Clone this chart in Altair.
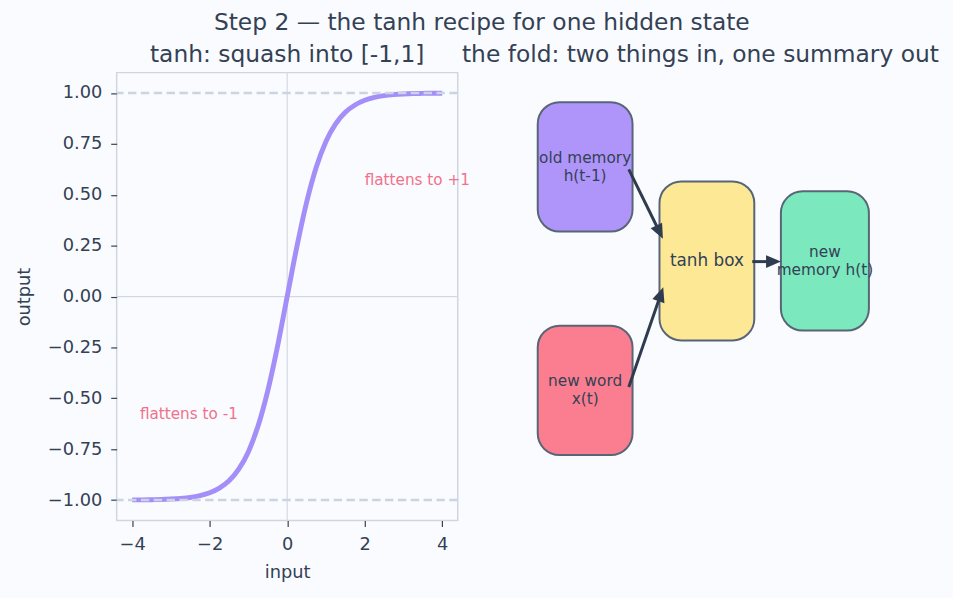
import math
import altair as alt
import pandas as pd

# ---------------- data ----------------
tanh_input = [-4.0, -3.75, -3.5, -3.25, -3.0, -2.75, -2.5, -2.25, -2.0, -1.75, -1.5,
              -1.25, -1.0, -0.75, -0.5, -0.25, 0.0, 0.25, 0.5, 0.75, 1.0, 1.25, 1.5,
              1.75, 2.0, 2.25, 2.5, 2.75, 3.0, 3.25, 3.5, 3.75, 4.0]
tanh_output = [-0.999, -0.999, -0.998, -0.997, -0.995, -0.992, -0.987, -0.978, -0.964,
               -0.941, -0.905, -0.848, -0.762, -0.635, -0.462, -0.245, 0.0, 0.245,
               0.462, 0.635, 0.762, 0.848, 0.905, 0.941, 0.964, 0.978, 0.987, 0.992,
               0.995, 0.997, 0.998, 0.999, 0.999]
limit_levels = [-1.0, 1.0]
zero_level = [0.0]
note_texts = ["flattens to +1", "flattens to -1"]
note_x = [2.0, -3.8]
note_y = [0.55, -0.6]
x_ticks = [-4, -2, 0, 2, 4]
y_ticks = [-1.0, -0.75, -0.5, -0.25, 0.0, 0.25, 0.5, 0.75, 1.0]

box_names = ["old", "word", "tanh", "new"]
box_labels = ["old memory\nh(t-1)", "new word\nx(t)", "tanh box", "new\nmemory h(t)"]
box_x0 = [0.23, 0.23, 3.80, 7.36]
box_x1 = [3.01, 3.01, 6.58, 9.94]
box_y0 = [6.45, 1.46, 4.02, 4.24]
box_y1 = [9.34, 4.35, 7.57, 7.35]
box_colors = ["#a78bfa", "#fb7185", "#fde68a", "#6ee7b7"]

arrow_from_x = [2.90, 2.90, 6.52]
arrow_from_y = [7.84, 2.98, 5.78]
arrow_to_x = [3.90, 3.91, 7.36]
arrow_to_y = [6.29, 5.21, 5.78]

# ---------------- styling ----------------
FONT = "DejaVu Sans"
INK = "#334155"
BG = "#fafbfe"
PW, PH = 345, 453
XDOM, YDOM = [-4.4, 4.4], [-1.1, 1.1]
DDOM = [0, 10]
HEAD_LEN = 15
LINE_H = 18
TFS = 23.6

curve_df = pd.DataFrame({"input": tanh_input, "output": tanh_output})
limit_df = pd.DataFrame({"level": limit_levels})
zero_df = pd.DataFrame({"level": zero_level})
note_df = pd.DataFrame({"text": note_texts, "x": note_x, "y": note_y})

xs = alt.Scale(domain=XDOM, nice=False, zero=False)
ys = alt.Scale(domain=YDOM, nice=False, zero=False)

zero_v = alt.Chart(zero_df).mark_rule(color="#d3d9e2", strokeWidth=1.2).encode(
    x=alt.X("level:Q", scale=xs))
zero_h = alt.Chart(zero_df).mark_rule(color="#d3d9e2", strokeWidth=1.2).encode(
    y=alt.Y("level:Q", scale=ys))
curve = alt.Chart(curve_df).mark_line(color="#a48ff9", strokeWidth=5,
                                      interpolate="monotone", strokeCap="butt").encode(
    x=alt.X("input:Q", scale=xs,
            axis=alt.Axis(values=x_ticks, title="input", format="d")),
    y=alt.Y("output:Q", scale=ys,
            axis=alt.Axis(values=y_ticks, title="output", format=".2f")),
)
limits = alt.Chart(limit_df).mark_rule(color="#cbd5e1", strokeWidth=2.5,
                                       strokeDash=[8.5, 4.5]).encode(
    y=alt.Y("level:Q", scale=ys))
notes = alt.Chart(note_df).mark_text(color="#f0718b", font=FONT, fontSize=15.4,
                                     align="left", baseline="alphabetic").encode(
    x=alt.X("x:Q", scale=xs), y=alt.Y("y:Q", scale=ys), text="text:N")

left = alt.layer(zero_v, zero_h, curve, limits, notes).properties(
    width=PW, height=PH,
    view=alt.ViewBackground(stroke="#cfd6df", strokeWidth=1.5),
    title=alt.TitleParams("tanh: squash into [-1,1]", fontSize=TFS, offset=6),
)

# ---- diagram panel ----
box_df = pd.DataFrame({"name": box_names, "label": box_labels, "x0": box_x0,
                       "x1": box_x1, "y0": box_y0, "y1": box_y1})
dsx = alt.Scale(domain=DDOM, nice=False, zero=False)
dsy = alt.Scale(domain=DDOM, nice=False, zero=False)

px_x = PW / (DDOM[1] - DDOM[0])
px_y = PH / (DDOM[1] - DDOM[0])
rows = []
for fx, fy, tx, ty in zip(arrow_from_x, arrow_from_y, arrow_to_x, arrow_to_y):
    dxp = (tx - fx) * px_x
    dyp = -(ty - fy) * px_y
    L = math.hypot(dxp, dyp)
    ang = math.degrees(math.atan2(dxp, -dyp)) % 360
    shrink = (HEAD_LEN - 2) / L
    rows.append({"fx": fx, "fy": fy,
                 "ex": tx - (tx - fx) * shrink, "ey": ty - (ty - fy) * shrink,
                 "tx": tx, "ty": ty, "angle": ang})
arrow_df = pd.DataFrame(rows)

boxes = alt.Chart(box_df).mark_rect(cornerRadius=22, stroke="#475569", strokeWidth=2,
                                    opacity=0.9, strokeOpacity=1).encode(
    x=alt.X("x0:Q", scale=dsx, axis=None), x2="x1:Q",
    y=alt.Y("y0:Q", scale=dsy, axis=None), y2="y1:Q",
    fill=alt.Fill("name:N", scale=alt.Scale(domain=box_names, range=box_colors),
                  legend=None),
)
box_text_small = alt.Chart(box_df).transform_filter(alt.datum.name != "tanh").transform_calculate(
    cx="(datum.x0 + datum.x1) / 2", cy="(datum.y0 + datum.y1) / 2"
).mark_text(font=FONT, fontSize=15.5, color=INK, lineBreak="\n", lineHeight=LINE_H,
            align="center", baseline="middle", dy=-LINE_H / 2).encode(
    x=alt.X("cx:Q", scale=dsx, axis=None), y=alt.Y("cy:Q", scale=dsy, axis=None),
    text="label:N")
box_text_big = alt.Chart(box_df).transform_filter(alt.datum.name == "tanh").transform_calculate(
    cx="(datum.x0 + datum.x1) / 2", cy="(datum.y0 + datum.y1) / 2"
).mark_text(font=FONT, fontSize=17, color=INK, align="center", baseline="middle").encode(
    x=alt.X("cx:Q", scale=dsx, axis=None), y=alt.Y("cy:Q", scale=dsy, axis=None),
    text="label:N")
shafts = alt.Chart(arrow_df).mark_rule(color="#2f3b4f", strokeWidth=3, strokeCap="butt").encode(
    x=alt.X("fx:Q", scale=dsx, axis=None), y=alt.Y("fy:Q", scale=dsy, axis=None),
    x2="ex:Q", y2="ey:Q")
heads = alt.Chart(arrow_df).mark_point(
    shape="M0,0 L0.43,1 L-0.43,1 Z", filled=True, size=(2 * HEAD_LEN) ** 2,
    color="#2f3b4f", opacity=1, strokeWidth=0.5).encode(
    x=alt.X("tx:Q", scale=dsx, axis=None), y=alt.Y("ty:Q", scale=dsy, axis=None),
    angle=alt.Angle("angle:Q", scale=None))

right = alt.layer(boxes, shafts, heads, box_text_small, box_text_big).properties(
    width=PW, height=PH,
    title=alt.TitleParams("the fold: two things in, one summary out", fontSize=TFS, offset=6),
)

chart = alt.hconcat(left, right, spacing=73, bounds="flush").properties(
    title=alt.TitleParams("Step 2 — the tanh recipe for one hidden state", fontSize=TFS,
                          anchor="middle", offset=8, dx=5),
    background=BG,
    padding={"left": 15, "top": 7, "right": 14, "bottom": 14},
).configure_view(strokeWidth=0).configure_title(
    font=FONT, fontWeight="normal", color=INK
).configure_axis(
    labelFont=FONT, labelFontSize=18, labelColor=INK, tickColor=INK, tickSize=6,
    tickWidth=1.2, domain=False, grid=False,
    titleFont=FONT, titleFontSize=18, titleFontWeight="normal", titleColor=INK,
).configure_axisX(labelPadding=9, titlePadding=11
).configure_axisY(labelPadding=9, titlePadding=14)

chart.save("out.html", embed_options={"renderer": "svg", "actions": False})
